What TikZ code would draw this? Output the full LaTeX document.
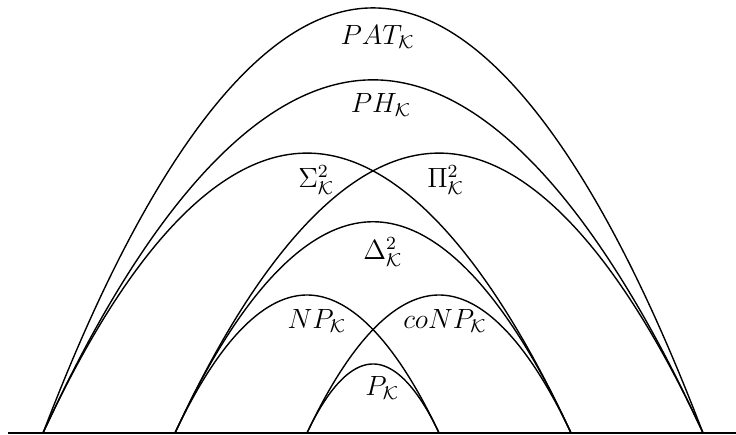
\documentclass[tikz,border=0pt]{standalone}
\begin{document}
\begin{tikzpicture}[%
    every node/.style={%
      inner sep=0pt,outer sep=0pt,font=\large},
    arc/.style={line width=0.6pt}
    ]
    \useasboundingbox (-0.652,-0.03) rectangle (10.5,6.56);
    \coordinate (f0) at (0,0);
    \coordinate (f1) at (2,0);
    \coordinate (f2) at (4,0);
    \coordinate (f3) at (6,0);
    \coordinate (f4) at (8,0);
    \coordinate (f5) at (10,0);
    \coordinate (ll) at (-0.53,0);
    \coordinate (rr) at (10.5,0);
    \draw[line width=0.7pt](ll)--(rr);
    % the classes, outer to inner
    \draw[arc](f0) parabola bend (5,6.44) (f5);
    \draw[arc](f0) parabola bend (5,5.35) (f5);
    \draw[arc](f0) parabola bend (4,4.24) (f4);
    \draw[arc](f1) parabola bend (6,4.24) (f5);
    \draw[arc](f1) parabola bend (5,3.20) (f4);
    \draw[arc](f1) parabola bend (4,2.09) (f3);
    \draw[arc](f2) parabola bend (6,2.09) (f4);
    \draw[arc](f2) parabola bend (5,1.045) (f3);
    \node at(5.07,6.0)(pat){$PAT_{\mathcal{K}}$};
    \node at(5.12,4.97)(ph){$PH_{\mathcal{K}}$};
    \node at(4.14,3.83)(sig){$\Sigma^2_{\mathcal{K}}$};
    \node at(6.1,3.83)(pi){$\Pi^2_{\mathcal{K}}$};
    \node at(5.15,2.74)(del){$\Delta^2_{\mathcal{K}}$};
    \node at(4.15,1.70)(np){$NP_{\mathcal{K}}$};
    \node at(6.09,1.70)(conp){$coNP_{\mathcal{K}}$};
    \node at(5.14,0.68)(p){$P_{\mathcal{K}}$};
  \end{tikzpicture}
\end{document}
